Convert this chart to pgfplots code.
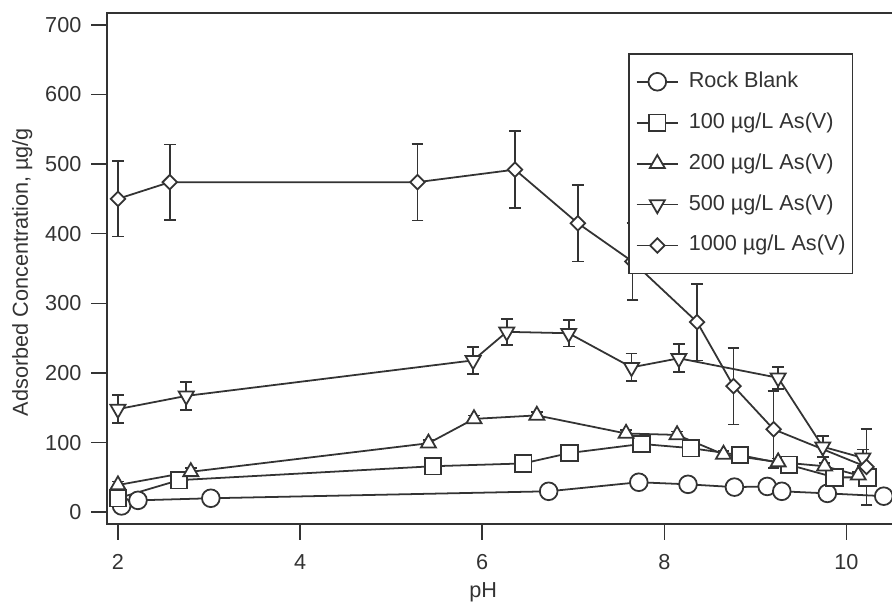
\documentclass[border=0pt]{standalone}
\usepackage{fontspec}
\setmainfont{Liberation Sans}
\usepackage{pgfplots}
\pgfplotsset{compat=1.18}
\definecolor{ink}{HTML}{333333}

\begin{document}
\begin{tikzpicture}
% page = 892 x 602 px, 1 px = 0.508pt
\path[use as bounding box] (0,0) rectangle (453.1pt,305.8pt);
\begin{axis}[
    at={(54.36pt,39.62pt)}, anchor=south west,
    scale only axis,
    width=403.35pt, height=259.6pt,
    xmin=1.88, xmax=10.6,
    ymin=-17, ymax=717,
    xtick={2,4,6,8,10},
    ytick={0,100,200,300,400,500,600,700},
    tick align=outside,
    major tick length=8pt,
    xtick pos=lower, ytick pos=left,
    axis line style={ink, line width=0.8pt},
    tick style={ink, line width=0.8pt},
    ticklabel style={font=\fontsize{11}{13}\selectfont, text=ink},
    /pgf/number format/assume math mode=true,
    yticklabel style={xshift=-1.5pt},
    xticklabel style={yshift=-4pt},
    every axis plot/.append style={ink, line width=0.9pt},
    legend style={
        at={(0.656,0.922)}, anchor=north west,
        draw=ink, line width=0.9pt, fill=white,
        inner xsep=3.5pt, inner ysep=9pt,
        font=\fontsize{11}{13}\selectfont, text=ink,
        row sep=10.3pt, column sep=5pt,
        nodes={inner sep=0pt, text height=8pt, text depth=2.5pt},
        cells={anchor=west}
    },
    legend image code/.code={
        \draw[mark repeat=2, mark phase=2] plot coordinates {(0cm,0cm) (0.37cm,0cm) (0.74cm,0cm)};
    },
]

% Rock Blank
\addplot[mark=*, mark size=4.5pt, mark options={fill=white, solid}] coordinates {
    (2.04,9) (2.22,17) (3.02,20) (6.73,30) (7.72,43) (8.26,40)
    (8.77,36) (9.13,37) (9.29,30) (9.79,27) (10.41,23)
};
\addlegendentry{Rock Blank}

% 100 ug/L
\addplot[mark=square*, mark size=4.2pt, mark options={fill=white, solid}] coordinates {
    (2,20) (2.67,46) (5.46,66) (6.45,70) (6.96,85) (7.75,98)
    (8.29,92) (8.83,82) (9.37,68) (9.87,50) (10.23,50)
};
\addlegendentry{100 µg/L As(V)}

% 200 ug/L
\addplot[mark=triangle*, mark size=4.4pt, mark options={fill=white, solid},
    error bars/.cd, y dir=both, y explicit,
    error bar style={line width=0.9pt},
    error mark options={rotate=90, mark size=3pt, line width=0.9pt}] coordinates {
    (2,39) +- (0,5) (2.8,58) +- (0,5) (5.41,99) +- (0,5) (5.91,134) +- (0,5)
    (6.6,139) +- (0,5) (7.58,113) +- (0,5) (8.14,111) +- (0,5) (8.65,83) +- (0,5)
    (9.25,72) +- (0,5) (9.76,66) +- (0,5) (10.13,53) +- (0,5)
};
\addlegendentry{200 µg/L As(V)}

% 500 ug/L
\addplot[mark=triangle*, mark size=4.4pt, mark options={fill=white, solid, rotate=180},
    error bars/.cd, y dir=both, y explicit,
    error bar style={line width=0.9pt},
    error mark options={rotate=90, mark size=3pt, line width=0.9pt}] coordinates {
    (2,148) +- (0,20) (2.75,167) +- (0,20) (5.9,218) +- (0,19) (6.27,259) +- (0,19)
    (6.95,257) +- (0,19) (7.64,208) +- (0,20) (8.16,221) +- (0,20) (9.25,193) +- (0,16)
    (9.74,94) +- (0,15) (10.18,78) +- (0,12)
};
\addlegendentry{500 µg/L As(V)}

% 1000 ug/L
\addplot[mark=square*, mark size=2.6pt, mark options={fill=white, solid, rotate=45},
    error bars/.cd, y dir=both, y explicit,
    error bar style={line width=0.9pt},
    error mark options={rotate=90, mark size=3pt, line width=0.9pt}] coordinates {
    (2,450) +- (0,54) (2.57,474) +- (0,54) (5.29,474) +- (0,55) (6.36,492) +- (0,55)
    (7.05,415) +- (0,55) (7.65,360) +- (0,55) (8.36,273) +- (0,55) (8.76,181) +- (0,55)
    (9.2,119) +- (0,55) (10.22,65) +- (0,55)
};
\addlegendentry{1000 µg/L As(V)}

\end{axis}
\node[rotate=90, anchor=base, text=ink, font=\fontsize{11}{13}\selectfont] at (14.2pt,167.6pt) {Adsorbed Concentration, µg/g};
\node[anchor=base, text=ink, font=\fontsize{11}{13}\selectfont] at (245.4pt,2.5pt) {pH};
\end{tikzpicture}
\end{document}
